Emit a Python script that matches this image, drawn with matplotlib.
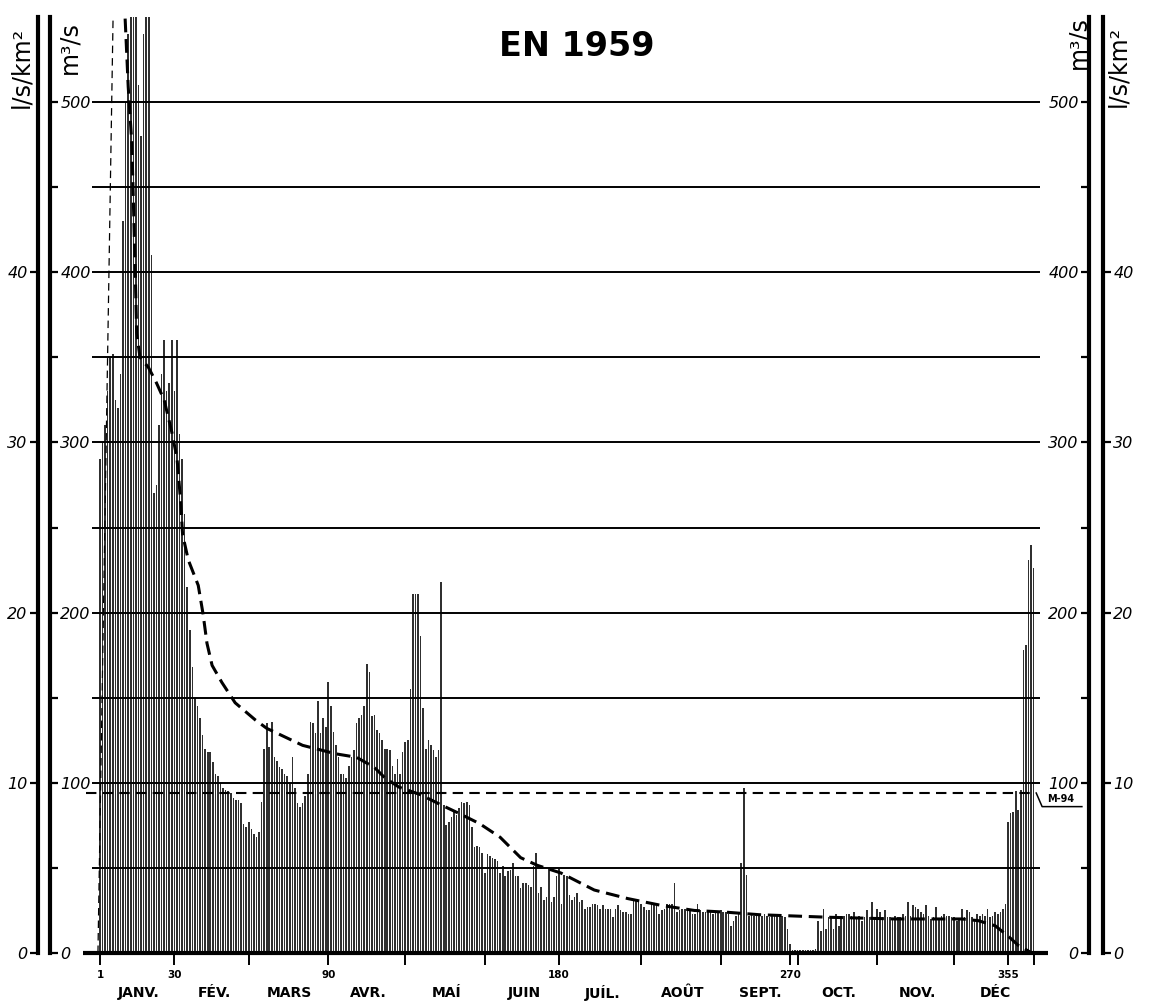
import numpy as np
import matplotlib
matplotlib.use('Agg')
import matplotlib.pyplot as plt

# ---------------- data (m3/s, daily flows 1959) ----------------
jan = [290, 300, 310, 330, 350, 352, 325, 320, 340, 430, 500, 540, 580, 580, 580, 510,
       480, 540, 580, 580, 410, 270, 275, 310, 340, 360, 330, 335, 360, 330, 360]
feb = [305, 290, 258, 215, 190, 168, 150, 145, 138, 128, 120, 118, 118, 112, 105, 104,
       100, 97, 96, 95, 94, 91, 90, 90, 88, 76, 74, 77]
mar = [73, 70, 68, 71, 89, 120, 135, 121, 136, 115, 113, 109, 108, 105, 104, 100,
       115, 97, 88, 86, 88, 92, 105, 136, 135, 129, 148, 129, 138, 133, 159]
apr = [145, 130, 122, 115, 105, 105, 103, 110, 115, 119, 135, 138, 140, 145, 170,
       165, 139, 140, 131, 129, 125, 120, 120, 119, 110, 105, 114, 105, 118, 124]
may = [125, 155, 211, 211, 211, 186, 144, 120, 125, 122, 119, 115, 119, 218, 87, 75,
       77, 80, 83, 81, 85, 89, 88, 89, 87, 74, 62, 63, 62, 59, 47]
jun = [58, 57, 56, 55, 54, 47, 51, 45, 48, 49, 53, 45, 45, 38, 41, 41, 40, 39, 51,
       59, 35, 39, 31, 33, 50, 30, 33, 45, 50, 29]
jul = [46, 45, 34, 31, 33, 35, 30, 31, 26, 27, 27, 29, 29, 28, 26, 28, 26, 26, 26,
       21, 26, 28, 25, 24, 24, 23, 23, 31, 31, 30, 29]
aug = [27, 25, 25, 29, 29, 28, 23, 25, 26, 29, 29, 29, 41, 24, 25, 26, 26, 26, 25,
       23, 23, 29, 25, 24, 24, 24, 24, 23, 24, 24, 25]
sep = [24, 24, 23, 16, 19, 22, 23, 53, 97, 46, 22, 23, 22, 23, 22, 22, 23, 22, 21,
       22, 23, 22, 21, 22, 21, 14, 5, 2, 1.5, 1.5]
oct_ = [1.5, 1.5, 1.5, 1.5, 2, 2, 2.5, 19, 13, 26, 14, 21, 21, 14, 23, 16, 22, 22, 23,
        23, 22, 24, 21, 22, 19, 21, 25, 21, 30, 21, 26]
nov = [24, 21, 25, 21, 21, 20, 22, 21, 21, 23, 22, 30, 22, 28, 27, 26, 24, 23, 28,
       22, 20, 21, 27, 20, 22, 23, 22, 22, 21, 21]
dec = [19, 20, 26, 21, 25, 24, 21, 20, 23, 22, 23, 22, 26, 21, 22, 24, 23, 24, 26,
       29, 77, 82, 83, 95, 84, 96, 178, 181, 231, 240, 226]

q_daily = np.array(jan + feb + mar + apr + may + jun + jul + aug + sep + oct_ + nov + dec, float)
days = np.arange(1, len(q_daily) + 1)

# classified-flow (duration) curve
dur_days = [10.8, 12, 13.4, 14, 14.7, 15.3, 16.6, 19.9, 23, 26, 29, 31, 32.3, 33.2, 35.4,
            39.3, 41.2, 42.7, 44.7, 48.5, 53.7, 61.5, 66, 80, 93, 101, 108, 112, 117.5,
            126, 134, 141, 149, 157, 165, 171.5, 180.7, 193.7, 206.7, 219.7, 232.7, 245,
            258, 285, 311, 337, 343.4, 350, 355, 359, 363.6]
dur_vals = [549, 509, 476, 442, 403, 364, 350, 344, 335, 325, 306, 291, 268, 246, 231,
            216, 199, 182, 169, 159, 147, 137, 132, 122, 117, 115, 109, 103, 97.5,
            93, 87, 82, 76, 68, 56, 51.5, 47, 37, 32, 28, 25, 24, 22.5, 21, 20, 20,
            19, 16, 10, 4.5, 0.6]
rise_days = [0.2, 6.1]
rise_vals = [0, 550]

mean_q = 94
grid_levels = [50, 100, 150, 200, 250, 300, 350, 400, 450, 500]
month_names = ['JANV.', 'FÉV.', 'MARS', 'AVR.', 'MAÍ', 'JUIN', 'JUÍL.', 'AOÛT',
               'SEPT.', 'OCT.', 'NOV.', 'DÉC']
month_lengths = [31, 28, 31, 30, 31, 30, 31, 31, 30, 31, 30, 31]
tick_days = [1, 30, 59, 90, 120, 151, 180, 212, 243, 270, 273, 304, 334, 355, 365]
tick_labels = ['1', '30', '', '90', '', '', '180', '', '', '270', '', '', '', '355', '']
m3s_ticks = [0, 50, 100, 150, 200, 250, 300, 350, 400, 450, 500]
m3s_labels = ['0', '', '100', '', '200', '', '300', '', '400', '', '500']
lskm_ticks = [0, 10, 20, 30, 40]
lskm_labels = ['0', '10', '20', '30', '40']

# ---------------- layout ----------------
W, H = 1149, 1008
fig = plt.figure(figsize=(W / 100, H / 100), dpi=100)
y0_px, ppu = 953, 1.702          # pixel of zero, pixels per m3/s
x1_px, ppd = 100, 2.565          # pixel of day 1, pixels per day
ymax = 550
bottom = (H - y0_px) / H
height = ymax * ppu / H
xlo = 1 - x1_px / ppd
xhi = 1 + (W - x1_px) / ppd

ax = fig.add_axes([0, bottom, 1, height])
ax.set_xlim(xlo, xhi)
ax.set_ylim(0, ymax)
ax.set_axis_off()

ax.bar(days, q_daily, width=0.62, color='#303030', linewidth=0, zorder=2)
ax.hlines(grid_levels, -2, 367.5, color='black', lw=1.4, zorder=3)
ax.plot(dur_days, dur_vals, color='black', lw=2.2, dashes=(4.5, 2.2), zorder=4)
ax.plot(rise_days, rise_vals, color='black', lw=0.9, dashes=(6, 4), zorder=4)
ax.plot([-4.5, 366], [mean_q, mean_q], color='black', lw=1.5, dashes=(5, 3), zorder=4)
ax.plot([366, 368.3, 383.8], [mean_q, 86, 86], color='black', lw=1.1,
        clip_on=False, zorder=4)
ax.text(375.5, 90.5, f'M-{mean_q}', fontsize=7, fontweight='bold',
        ha='center', va='center')

# baseline and day ticks
ax.plot([-5.6, 370.6], [0, 0], color='black', lw=3, solid_capstyle='butt',
        clip_on=False, zorder=5)
ax.vlines(tick_days, -7.2, 0, color='black', lw=1.4, clip_on=False)
for d, lab in zip(tick_days, tick_labels):
    if lab:
        ax.text(d, -13, lab, fontsize=7.5, fontweight='bold', ha='center',
                va='center', clip_on=False)
cum = np.cumsum(month_lengths)
mids = cum - np.array(month_lengths) / 2 + 0.5
for m, name in zip(mids, month_names):
    ax.text(m, -23.5, name, fontsize=10, fontweight='bold', ha='center',
            va='center', clip_on=False)


def scale_axis(xpx, side, lim, ticks, labels):
    a = fig.add_axes([xpx / W, bottom, 1e-6, height])
    a.set_ylim(0, lim)
    a.set_xticks([])
    a.patch.set_visible(False)
    for s in ['top', 'bottom', 'left', 'right']:
        a.spines[s].set_visible(s == side)
    a.spines[side].set_linewidth(3)
    a.yaxis.set_ticks_position(side)
    a.set_yticks(ticks)
    a.set_yticklabels(labels, fontsize=11.5, fontstyle='italic')
    a.tick_params(axis='y', direction='out', length=6, width=1.6, pad=1.5)
    return a


scale_axis(38, 'left', ymax / 10, lskm_ticks, lskm_labels)
scale_axis(50, 'right', ymax, m3s_ticks, m3s_labels)
scale_axis(1089, 'left', ymax, m3s_ticks, m3s_labels)
scale_axis(1103, 'right', ymax / 10, lskm_ticks, lskm_labels)

fig.text(21 / W, 1 - 67 / H, 'l/s/km²', rotation=90, fontsize=17, ha='center', va='center')
fig.text(69 / W, 1 - 48 / H, 'm³/s', rotation=90, fontsize=17, ha='center', va='center')
fig.text(1078 / W, 1 - 43 / H, 'm³/s', rotation=90, fontsize=17, ha='center', va='center')
fig.text(1118 / W, 1 - 66 / H, 'l/s/km²', rotation=90, fontsize=17, ha='center', va='center')

fig.text(577 / W, 1 - 47 / H, 'EN 1959', fontsize=24, fontweight='bold',
         ha='center', va='center')

fig.savefig('out.png', dpi=100)
